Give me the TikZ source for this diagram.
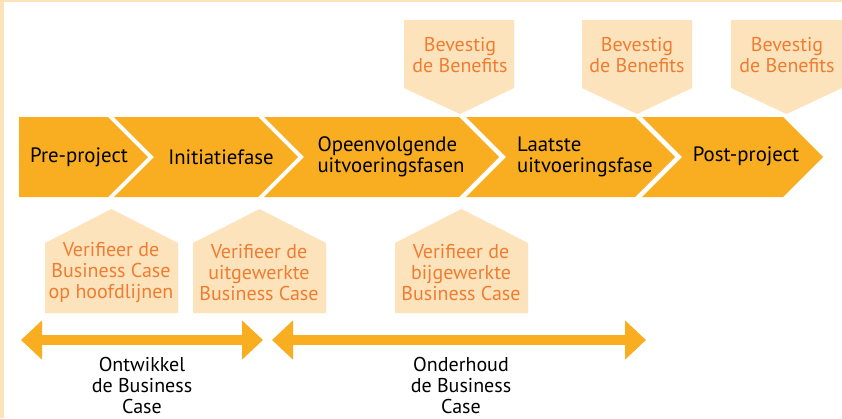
\documentclass[tikz,border=0pt]{standalone}
\usepackage{fontspec}
\setmainfont{PT Sans}
\usetikzlibrary{arrows.meta}
\definecolor{gold}{HTML}{F8AE20}
\definecolor{peach}{HTML}{FDE3BC}
\definecolor{orangetxt}{HTML}{EF7D31}
\begin{document}
\begin{tikzpicture}[x=1pt,y=-1pt,
  chevfill/.style={fill=gold},
  callfill/.style={fill=peach},
  phasetxt/.style={inner sep=0pt,font=\fontsize{20.8}{21}\selectfont,text=black},
  calltxt/.style={inner sep=0pt,align=center,font=\fontsize{20}{20.5}\selectfont,text=orangetxt},
  spanlbl/.style={inner sep=0pt,align=center,font=\fontsize{20}{21}\selectfont,text=black},
  spanarrow/.style={draw=gold,line width=10pt,{Triangle[length=21pt,width=38pt]}-{Triangle[length=21pt,width=38pt]}}]
\useasboundingbox (0,0) rectangle (842,418);
\fill[white] (0,0) rectangle (842,418);
\fill[peach] (0,0) rectangle (4,418);
\fill[peach] (0,0) rectangle (842,1.5);

% chevrons
\fill[chevfill] (19,117) -- (108,117) -- (148,157) -- (108,197) -- (19,197) -- cycle;
\fill[chevfill] (114,117) -- (258,117) -- (298,157) -- (258,197) -- (114,197) -- (154,157) -- cycle;
\fill[chevfill] (264,117) -- (459,117) -- (499,157) -- (459,197) -- (264,197) -- (304,157) -- cycle;
\fill[chevfill] (466,117) -- (635,117) -- (675,157) -- (635,197) -- (466,197) -- (506,157) -- cycle;
\fill[chevfill] (642,117) -- (783,117) -- (823,157) -- (783,197) -- (642,197) -- (682,157) -- cycle;

\node[phasetxt] (pre) at (79,157) {Pre-project};
\node[phasetxt] (init) at (221,157) {Initiatiefase};
\node[phasetxt,align=left] (opeen) at (391,157) {Opeenvolgende\\uitvoeringsfasen};
\node[phasetxt,align=left,anchor=west] (laatste) at (517,157) {Laatste\\uitvoeringsfase};
\node[phasetxt] (post) at (746,156) {Post-project};

% top callouts
\fill[callfill] (404,20) -- (514,20) -- (514,88) -- (460,114) -- (404,88) -- cycle;
\fill[callfill] (582,20) -- (692,20) -- (692,88) -- (637,114) -- (582,88) -- cycle;
\fill[callfill] (731,20) -- (842,20) -- (842,88) -- (786.5,114) -- (731,88) -- cycle;
\node[calltxt] (ben1) at (460,55) {Bevestig\\de Benefits};
\node[calltxt] (ben2) at (637,55) {Bevestig\\de Benefits};
\node[calltxt] (ben3) at (787,55) {Bevestig\\de Benefits};

% bottom callouts
\fill[callfill] (45,313) -- (45,243) -- (111.5,209) -- (178,243) -- (178,313) -- cycle;
\fill[callfill] (193,313) -- (193,243) -- (259.5,209) -- (326,243) -- (326,313) -- cycle;
\fill[callfill] (395,313) -- (395,243) -- (461.5,209) -- (528,243) -- (528,313) -- cycle;
\node[calltxt,font=\fontsize{20}{21}\selectfont] (ver1) at (111,273) {Verifieer de\\Business Case\\op hoofdlijnen};
\node[calltxt,font=\fontsize{20}{21}\selectfont] (ver2) at (259,273) {Verifieer de\\uitgewerkte\\Business Case};
\node[calltxt,font=\fontsize{20}{21}\selectfont] (ver3) at (461,273) {Verifieer de\\bijgewerkte\\Business Case};

% span arrows
\coordinate (a1l) at (21,340);
\coordinate (a1r) at (263,340);
\coordinate (a2l) at (272,340);
\coordinate (a2r) at (646,340);
\draw[spanarrow] (a1l) -- (a1r);
\draw[spanarrow] (a2l) -- (a2r);
\node[spanlbl] (ontw) at (142,385) {Ontwikkel\\de Business\\Case};
\node[spanlbl] (onder) at (461,385) {Onderhoud\\de Business\\Case};
\end{tikzpicture}
\end{document}
